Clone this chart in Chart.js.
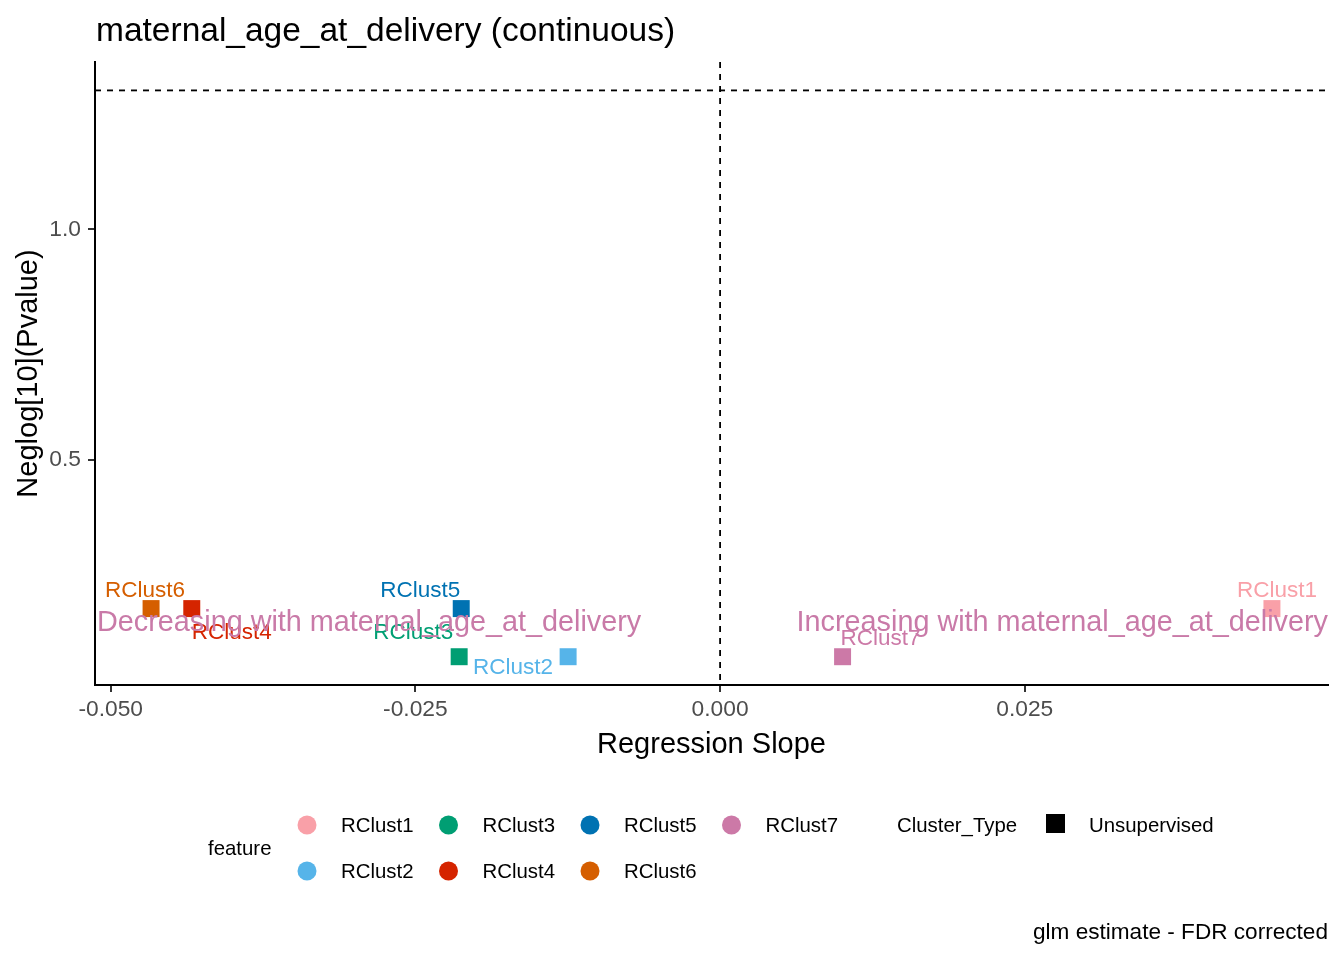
<!DOCTYPE html>
<html>
<head>
<meta charset="utf-8">
<script src="https://cdn.jsdelivr.net/npm/chart.js@4.4.0/dist/chart.umd.min.js"></script>
<style>
html,body{margin:0;padding:0;background:#ffffff;}
#wrap{width:1344px;height:960px;position:relative;}
canvas{display:block;}
</style>
</head>
<body>
<div id="wrap"><canvas id="c" width="1344" height="960"></canvas></div>
<script>
// ---------- data ----------
const features = ["RClust1","RClust2","RClust3","RClust4","RClust5","RClust6","RClust7"];
const slopes = [0.04528, -0.01247, -0.02141, -0.04335, -0.02124, -0.04669, 0.01005];
const negLog10P = [0.178, 0.0737, 0.0737, 0.178, 0.178, 0.178, 0.0737];
const featureColors = ["#F9A0A8","#56B4E9","#009E73","#D52400","#0072B2","#D55E00","#CC79A7"];
const xTicks = [-0.050, -0.025, 0.000, 0.025];
const xTickLabels = ["-0.050","-0.025","0.000","0.025"];
const yTicks = [0.5, 1.0];
const yTickLabels = ["0.5","1.0"];
const xLimits = [-0.05129, 0.04988];
const yLimits = [0.0124, 1.3626];
const fdrThreshold = 1.30103;   // -log10(0.05)
const slopeZero = 0;
const annotationTexts = ["Decreasing with maternal_age_at_delivery","Increasing with maternal_age_at_delivery"];
const annotationY = 0.147;
const titleText = "maternal_age_at_delivery (continuous)";
const xTitle = "Regression Slope";
const yTitle = "Neglog[10](Pvalue)";
const captionText = "glm estimate - FDR corrected";
const legendTitle1 = "feature";
const legendTitle2 = "Cluster_Type";
const clusterTypes = ["Unsupervised"];

// ---------- layout (pixel offsets for repelled labels) ----------
const labelOffsets = [[5,-18],[-55,11],[-46,-24],[40,24],[-41,-18],[-6,-18],[38,-18]];

const FONT = '"Liberation Sans", Arial, sans-serif';
Chart.defaults.font.family = FONT;

const datasets = features.map((f, i) => ({
  label: f,
  data: [{x: slopes[i], y: negLog10P[i]}],
  pointStyle: 'rect',
  pointRadius: 12,
  pointHoverRadius: 12,
  backgroundColor: featureColors[i],
  borderWidth: 0
}));

const overlay = {
  id: 'overlay',
  beforeDatasetsDraw(chart) {
    const {ctx, chartArea: a, scales: {x, y}} = chart;
    ctx.save();
    ctx.strokeStyle = '#000';
    ctx.lineWidth = 1.8;
    ctx.setLineDash([6, 6]);
    const yy = y.getPixelForValue(fdrThreshold);
    ctx.beginPath(); ctx.moveTo(a.left, yy); ctx.lineTo(a.right, yy); ctx.stroke();
    const xx = x.getPixelForValue(slopeZero);
    ctx.beginPath(); ctx.moveTo(xx, a.top); ctx.lineTo(xx, a.bottom); ctx.stroke();
    ctx.restore();
  },
  afterDatasetsDraw(chart) {
    const {ctx, chartArea: a, scales: {y}} = chart;
    ctx.save();
    ctx.font = '22.5px ' + FONT;
    ctx.textAlign = 'center';
    ctx.textBaseline = 'middle';
    features.forEach((f, i) => {
      const pt = chart.getDatasetMeta(i).data[0];
      ctx.fillStyle = featureColors[i];
      ctx.fillText(f, pt.x + labelOffsets[i][0], pt.y + labelOffsets[i][1]);
    });
    // annotations
    ctx.font = '28.8px ' + FONT;
    ctx.fillStyle = '#C97AA8';
    const ay = y.getPixelForValue(annotationY);
    ctx.textAlign = 'left';
    ctx.fillText(annotationTexts[0], a.left + 2, ay);
    ctx.textAlign = 'right';
    ctx.fillText(annotationTexts[1], a.right, ay);
    ctx.restore();
  },
  afterDraw(chart) {
    const {ctx, chartArea: a} = chart;
    ctx.save();
    // title
    ctx.fillStyle = '#000';
    ctx.font = '33.5px ' + FONT;
    ctx.textAlign = 'left';
    ctx.textBaseline = 'middle';
    ctx.fillText(titleText, a.left + 1, 32);
    // legend: feature
    ctx.font = '20.4px ' + FONT;
    ctx.fillText(legendTitle1, 208, 849);
    features.forEach((f, i) => {
      const col = Math.floor(i / 2), row = i % 2;
      const cx = 307 + col * 141.5, cy = 825 + row * 46;
      ctx.fillStyle = featureColors[i];
      ctx.beginPath(); ctx.arc(cx, cy, 9.5, 0, Math.PI * 2); ctx.fill();
      ctx.fillStyle = '#000';
      ctx.fillText(f, cx + 34, cy + 1);
    });
    // legend: cluster type
    ctx.fillText(legendTitle2, 897, 826);
    ctx.fillRect(1046, 814, 19, 19);
    ctx.fillText(clusterTypes[0], 1089, 826);
    // caption
    ctx.font = '22.6px ' + FONT;
    ctx.textAlign = 'right';
    ctx.fillText(captionText, a.right, 933);
    ctx.restore();
  }
};

new Chart(document.getElementById('c'), {
  type: 'scatter',
  data: { datasets },
  options: {
    responsive: false,
    animation: false,
    devicePixelRatio: 1,
    layout: { padding: { top: 62, right: 16, bottom: 196, left: 0 } },
    plugins: { legend: { display: false }, tooltip: { enabled: false }, title: { display: false } },
    scales: {
      x: {
        type: 'linear',
        min: xLimits[0], max: xLimits[1],
        afterBuildTicks(scale) { scale.ticks = xTicks.map(v => ({value: v})); },
        afterFit(scale) { scale.height = 79; },
        ticks: {
          autoSkip: false, maxRotation: 0,
          callback: (v, i) => xTickLabels[i],
          color: '#4D4D4D', font: { size: 22.8 }, padding: 4
        },
        grid: { drawOnChartArea: false, drawTicks: true, tickLength: 7, tickColor: '#333333', lineWidth: 2 },
        border: { display: true, color: '#000', width: 2 },
        title: { display: true, text: xTitle, color: '#000', font: { size: 29 }, padding: { top: 0, bottom: 2 } }
      },
      y: {
        type: 'linear',
        min: yLimits[0], max: yLimits[1],
        afterBuildTicks(scale) { scale.ticks = yTicks.map(v => ({value: v})); },
        afterFit(scale) { scale.width = 95; },
        ticks: {
          autoSkip: false,
          callback: (v, i) => yTickLabels[i],
          color: '#4D4D4D', font: { size: 22.8 }, padding: 7
        },
        grid: { drawOnChartArea: false, drawTicks: true, tickLength: 7, tickColor: '#333333', lineWidth: 2 },
        border: { display: true, color: '#000', width: 2 },
        title: { display: true, text: yTitle, color: '#000', font: { size: 29 }, padding: { top: 12, bottom: 0 } }
      }
    }
  },
  plugins: [overlay]
});
</script>
</body>
</html>
